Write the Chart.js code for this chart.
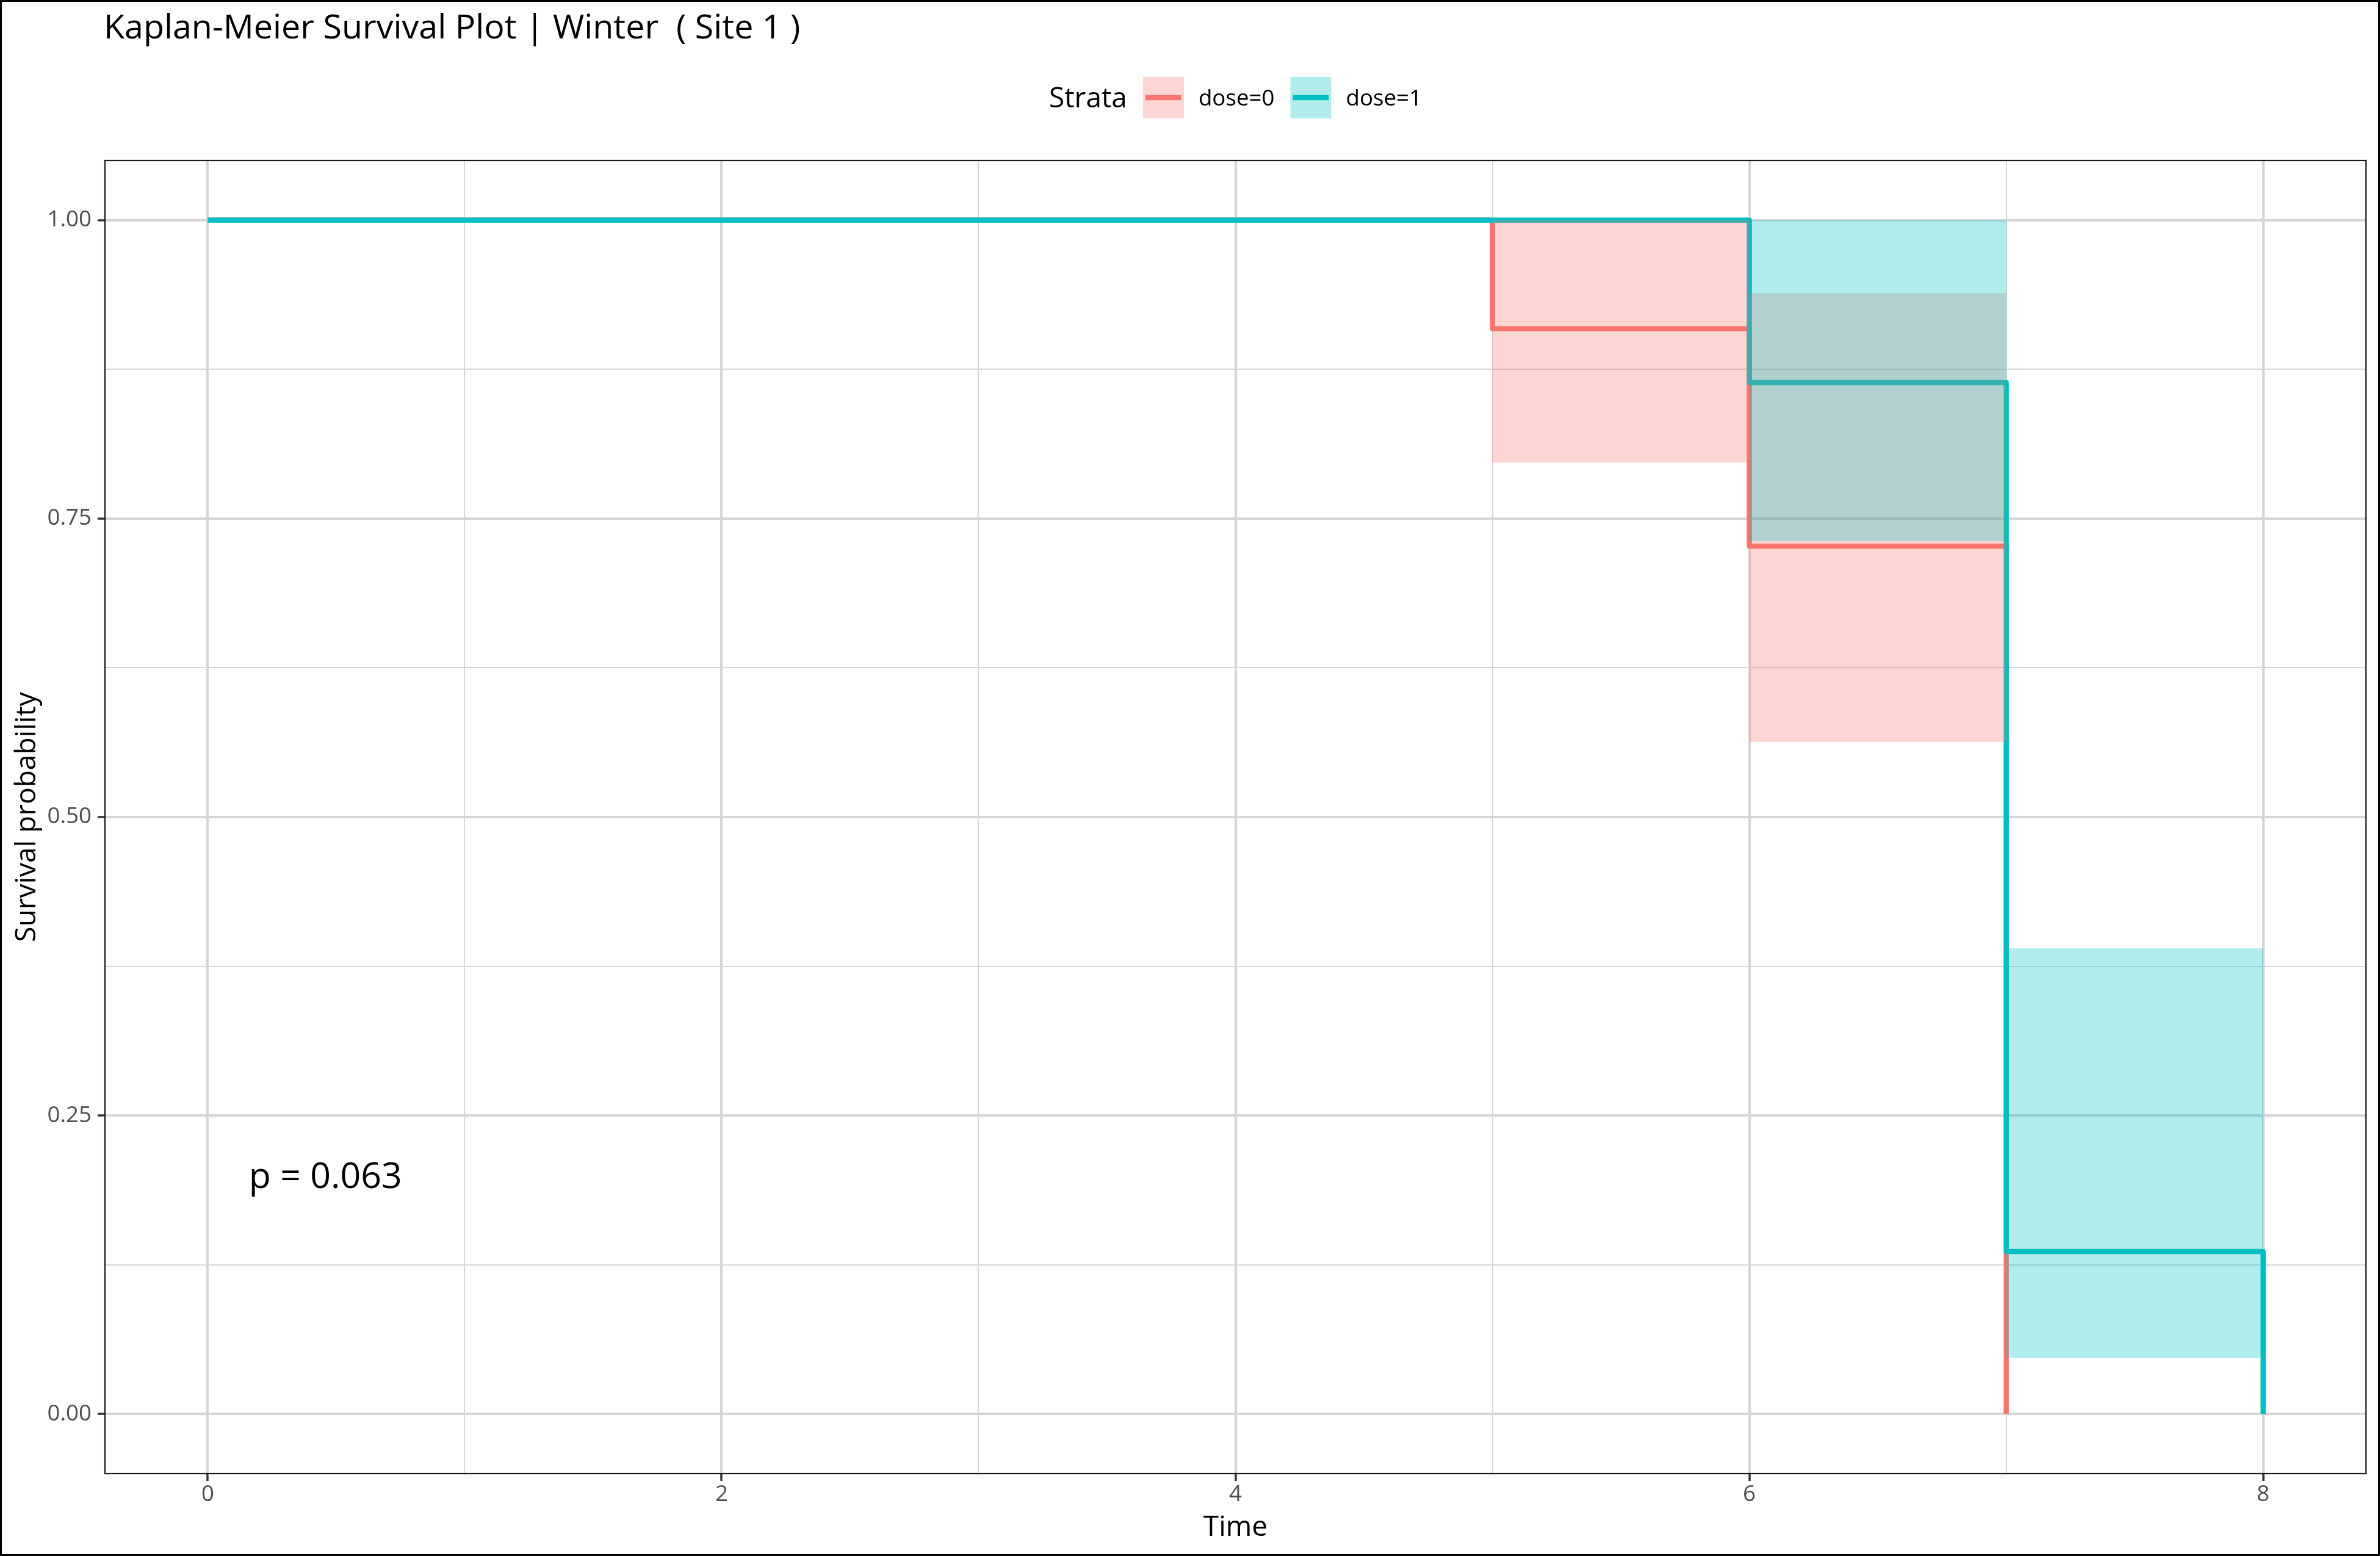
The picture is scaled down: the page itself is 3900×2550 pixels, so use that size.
<!DOCTYPE html>
<html>
<head>
<meta charset="utf-8">
<script src="https://cdn.jsdelivr.net/npm/chart.js@4/dist/chart.umd.min.js"></script>
<style>
  html, body { margin: 0; padding: 0; background: #ffffff; }
  canvas { display: block; }
</style>
</head>
<body>
<canvas id="c" width="3900" height="2550"></canvas>
<script>
// ---------------- data ----------------
const chartTitle   = 'Kaplan-Meier Survival Plot | Winter  ( Site 1 )';
const legendTitle  = 'Strata';
const strataLabels = ['dose=0', 'dose=1'];
const xTitle       = 'Time';
const yTitle       = 'Survival probability';
const pValueText   = 'p = 0.063';
const pValueAt     = [0.16, 0.2];

// stratum dose=0
const times0 = [0, 5, 6, 7];
const surv0  = [1, 0.909, 0.727, 0];
const upper0 = [1, 1, 0.939, null];
const lower0 = [1, 0.797, 0.563, null];

// stratum dose=1
const times1 = [0, 6, 7, 8];
const surv1  = [1, 0.864, 0.136, 0];
const upper1 = [1, 1, 0.390, null];
const lower1 = [1, 0.731, 0.047, null];

const xMajorTicks = [0, 2, 4, 6, 8];
const yMajorTicks = [0, 0.25, 0.5, 0.75, 1];

// ---------------- styles ----------------
const RED  = '#F8766D', CYAN = '#00BFC4';
const RED_FILL  = 'rgba(248,118,109,0.3)';
const CYAN_FILL = 'rgba(0,191,196,0.3)';
const FONT = "'Open Sans', sans-serif";
const LINE_W = 8.5;

Chart.defaults.font.family = FONT;

function stepPoints(t, v) { return t.map((x, i) => ({ x, y: v[i] })); }
function bandPoints(t, v) { return t.map((x, i) => ({ x, y: v[i] ?? v[i - 1] })); }

function bandDs(t, v, fill, color) {
  return { data: bandPoints(t, v), stepped: true, fill: fill, backgroundColor: color,
           borderWidth: 0, pointRadius: 0, pointHoverRadius: 0 };
}
function lineDs(t, v, color) {
  return { data: stepPoints(t, v), stepped: true, fill: false, borderColor: color,
           borderWidth: LINE_W, borderJoinStyle: 'round', borderCapStyle: 'butt',
           pointRadius: 0, pointHoverRadius: 0 };
}

const isMajorX = v => xMajorTicks.some(m => Math.abs(m - v) < 1e-9);
const isMajorY = v => yMajorTicks.some(m => Math.abs(m - v) < 1e-9);

const decor = {
  id: 'decor',
  afterDraw(chart) {
    const { ctx, chartArea: a, scales: { x, y } } = chart;
    ctx.save();
    // panel border
    ctx.strokeStyle = '#1a1a1a';
    ctx.lineWidth = 2.2;
    ctx.strokeRect(a.left, a.top, a.right - a.left, a.bottom - a.top);

    // p-value annotation
    ctx.fillStyle = '#000';
    ctx.textAlign = 'left';
    ctx.textBaseline = 'alphabetic';
    ctx.font = '59px ' + FONT;
    ctx.fillText(pValueText, x.getPixelForValue(pValueAt[0]), y.getPixelForValue(pValueAt[1]) + 0.357 * 59);

    // title
    ctx.font = '55.6px ' + FONT;
    ctx.fillText(chartTitle, a.left - 2, 63);

    // legend
    const cy = 160, key = 67, keyH = 68;
    ctx.font = '46px ' + FONT;
    const wT = ctx.measureText(legendTitle).width;
    ctx.font = '36.7px ' + FONT;
    const w0 = ctx.measureText(strataLabels[0]).width;
    const w1 = ctx.measureText(strataLabels[1]).width;
    const total = wT + 26 + key + 24 + w0 + 26 + key + 24 + w1;
    let cx = (a.left + a.right) / 2 - total / 2;
    ctx.font = '46px ' + FONT;
    ctx.fillStyle = '#000';
    ctx.fillText(legendTitle, cx, cy + 0.357 * 46);
    cx += wT + 26;
    const items = [[RED, RED_FILL, strataLabels[0], w0], [CYAN, CYAN_FILL, strataLabels[1], w1]];
    items.forEach(([lc, fc, lab, w]) => {
      ctx.fillStyle = '#fff';
      ctx.fillRect(cx, cy - keyH / 2, key, keyH);
      ctx.fillStyle = fc;
      ctx.fillRect(cx, cy - keyH / 2, key, keyH);
      ctx.strokeStyle = lc;
      ctx.lineWidth = LINE_W;
      ctx.lineCap = 'butt';
      ctx.beginPath();
      ctx.moveTo(cx + 4, cy);
      ctx.lineTo(cx + key - 4, cy);
      ctx.stroke();
      cx += key + 24;
      ctx.fillStyle = '#000';
      ctx.font = '36.7px ' + FONT;
      ctx.fillText(lab, cx, cy + 0.357 * 36.7);
      cx += w + 26;
    });

    // outer frame
    ctx.strokeStyle = '#000';
    ctx.lineWidth = 3;
    ctx.strokeRect(1.5, 1.5, 3897, 2547);
    ctx.restore();
  }
};

const gridCommon = (isMajor) => ({
  color: '#D6D6D6',
  lineWidth: c => (c.tick && isMajor(c.tick.value)) ? 4 : 2,
  drawTicks: true,
  tickLength: 12,
  tickWidth: 3.5,
  tickColor: c => (c.tick && isMajor(c.tick.value)) ? '#333333' : 'rgba(0,0,0,0)'
});

new Chart(document.getElementById('c'), {
  type: 'line',
  data: {
    datasets: [
      bandDs(times1, upper1, '+1', CYAN_FILL),
      bandDs(times1, lower1, false, CYAN_FILL),
      bandDs(times0, upper0, '+1', RED_FILL),
      bandDs(times0, lower0, false, RED_FILL),
      lineDs(times1, surv1, CYAN),
      lineDs(times0, surv0, RED)
    ]
  },
  options: {
    responsive: false,
    animation: false,
    devicePixelRatio: 1,
    layout: { padding: { top: 263, right: 23, bottom: 0, left: 0 } },
    plugins: {
      legend: { display: false },
      title: { display: false },
      tooltip: { enabled: false },
      filler: { propagate: false }
    },
    scales: {
      x: {
        type: 'linear',
        min: -0.4, max: 8.4,
        border: { display: false },
        grid: gridCommon(isMajorX),
        ticks: {
          stepSize: 1, includeBounds: false, autoSkip: false, maxRotation: 0,
          padding: 1, color: '#4D4D4D', font: { size: 36.7 },
          callback: v => isMajorX(v) ? String(v) : ''
        },
        title: { display: true, text: xTitle, color: '#000', font: { size: 46 }, padding: { top: 0, bottom: 19 } },
        afterFit: s => { s.height = 135; }
      },
      y: {
        type: 'linear',
        min: -0.05, max: 1.05,
        border: { display: false },
        grid: gridCommon(isMajorY),
        ticks: {
          stepSize: 0.125, includeBounds: false, autoSkip: false,
          padding: 10, color: '#4D4D4D', font: { size: 36.7 },
          callback: v => isMajorY(v) ? v.toFixed(2) : ''
        },
        title: { display: true, text: yTitle, color: '#000', font: { size: 46 }, padding: { top: 17, bottom: 0 } },
        afterFit: s => { s.width = 172; }
      }
    }
  },
  plugins: [decor]
});
</script>
</body>
</html>
